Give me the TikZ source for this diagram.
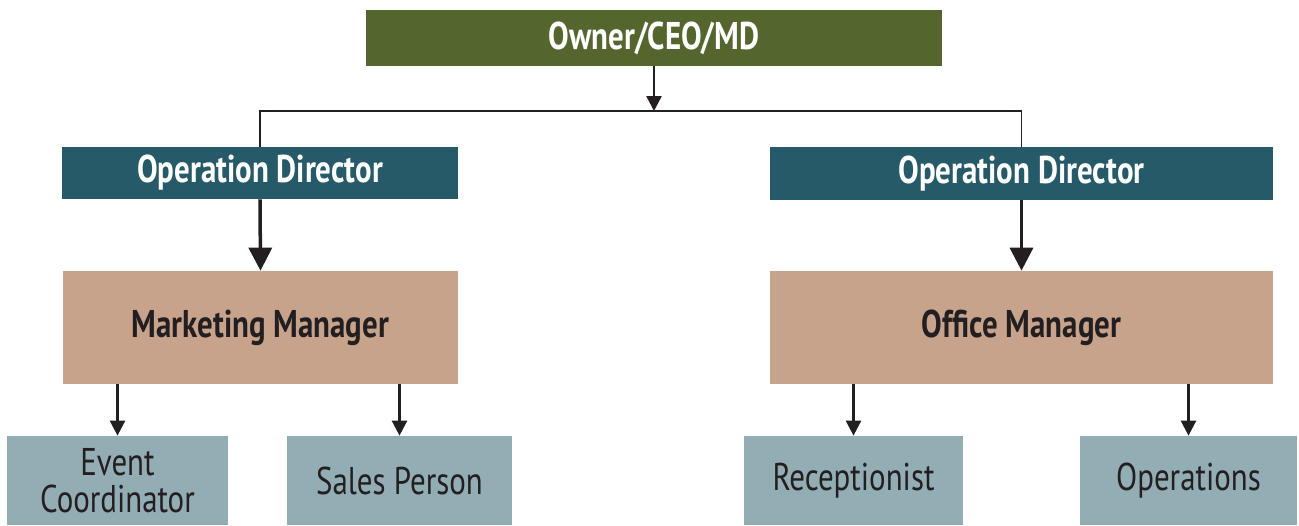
\documentclass[tikz,border=0pt]{standalone}
\usepackage{fontspec}
\setmainfont{PT Sans}[FakeStretch=0.8]
\usetikzlibrary{arrows.meta}
\definecolor{ceogreen}{HTML}{54652E}
\definecolor{dirteal}{HTML}{265A68}
\definecolor{mgrtan}{HTML}{C8A38C}
\definecolor{staffgrey}{HTML}{93ADB4}
\definecolor{inkdark}{HTML}{231F20}
\def\px{0.02cm}
\begin{document}
\begin{tikzpicture}[x=0.02cm,y=-0.02cm,
		box/.style 2 args={rectangle,inner sep=0pt,align=center,minimum width={#1*\px},minimum height={#2*\px}},
		ceobox/.style={fill=ceogreen,text=white,font=\fontsize{22}{26}\selectfont\bfseries},
		dirbox/.style={fill=dirteal,text=white,font=\fontsize{22}{26}\selectfont\bfseries},
		mgrbox/.style={fill=mgrtan,text=inkdark,font=\fontsize{22}{26}\selectfont\bfseries},
		staffbox/.style={fill=staffgrey,text=inkdark,font=\fontsize{22}{21}\selectfont},
		thin/.style={draw=inkdark,line width=1.4pt,-{Triangle[width=0.3cm,length=0.3cm]}},
		thick/.style={draw=inkdark,line width=2pt,-{Triangle[width=0.46cm,length=0.46cm]}}]
		\useasboundingbox (0,0) rectangle (1299,525);
		\node[box={576}{56},ceobox] (ceo) at (654,38) {Owner/CEO/MD};
		\node[box={396}{52},dirbox] (dirL) at (260,173) {Operation Director};
		\node[box={503}{53},dirbox] (dirR) at (1021.5,173.5) {Operation Director};
		\node[box={395}{113},mgrbox] (mkt) at (260.5,327.5) {Marketing Manager};
		\node[box={503}{113},mgrbox] (off) at (1021.5,327.5) {Office Manager};
		\node[box={221}{89},staffbox] (event) at (117.5,480.5) {Event\\Coordinator};
		\node[box={225}{89},staffbox] (sales) at (399.5,480.5) {Sales Person};
		\node[box={219}{89},staffbox] (recep) at (853.5,480.5) {Receptionist};
		\node[box={217}{89},staffbox] (ops) at (1188.5,480.5) {Operations};
		\coordinate (split) at (654,111);
		\draw[thin] (ceo.south) -- (split);
		\draw[draw=inkdark,line width=1.1pt] (dirL.north) -- (dirL.north |- split) -- (dirR.north |- split) -- (dirR.north);
		\draw[thick] (dirL.south) -- (mkt.north);
		\draw[thick] (dirR.south) -- (off.north);
		\draw[thin] (event.north |- mkt.south) -- (event.north);
		\draw[thin] (sales.north |- mkt.south) -- (sales.north);
		\draw[thin] (recep.north |- off.south) -- (recep.north);
		\draw[thin] (ops.north |- off.south) -- (ops.north);
\end{tikzpicture}
\end{document}
